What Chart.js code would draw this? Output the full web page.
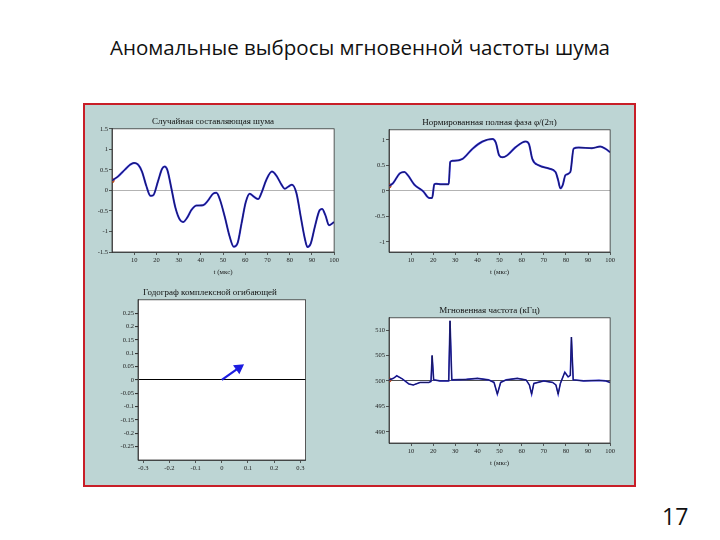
<!DOCTYPE html>
<html>
<head>
<meta charset="utf-8">
<script src="https://cdn.jsdelivr.net/npm/chart.js@4.4.1/dist/chart.umd.min.js"></script>
<style>
  body { margin: 0; background: #fff; }
  #slide { position: relative; width: 720px; height: 540px; overflow: hidden; background: #fff; }
  #title { position: absolute; left: 0; width: 720px; top: 33px; text-align: center;
           font-family: "Open Sans", sans-serif; font-size: 20.5px; color: #111; }
  #page { position: absolute; left: 662px; top: 500px; font-family: "Open Sans", sans-serif; font-size: 23px; color: #111; }
  #box { position: absolute; left: 83px; top: 103px; width: 549px; height: 380px;
         border: 2px solid #c81e28; background: #bdd5d4; }
  .cv { position: absolute; }
</style>
</head>
<body>
<div id="slide">
  <div id="title">Аномальные выбросы мгновенной частоты шума</div>
  <div id="box"></div>
  <div class="cv" style="left:90px;top:115px;width:250px;height:161px"><canvas id="c1"></canvas></div>
  <div class="cv" style="left:367px;top:116px;width:249px;height:160px"><canvas id="c2"></canvas></div>
  <div class="cv" style="left:112px;top:286px;width:200px;height:196px"><canvas id="c3"></canvas></div>
  <div class="cv" style="left:367px;top:304px;width:249px;height:163px"><canvas id="c4"></canvas></div>
  <div id="page">17</div>
</div>
<script>
// время, мкс
const noiseT = [0, 2.7, 5.7, 8, 9.9, 11.7, 13.5, 15.5, 17.3, 18.5, 20.7, 22.5, 23.7, 24.9, 26.7, 28.5, 30.5, 32, 34, 35.7,
  38, 41, 43.2, 45.5, 47, 48.5, 50.8, 53, 54.8, 56.5, 58.3, 60.2, 62, 64, 65.8, 67.3, 69.5, 72, 74, 76.3,
  77.8, 79.6, 81, 83, 85, 86.8, 88, 89.5, 91.3, 93.5, 94.6, 96.1, 97.7, 99.5, 100];
const noiseV = [0.24, 0.34, 0.5, 0.62, 0.67, 0.63, 0.46, 0.1, -0.13, -0.12, 0.22, 0.52, 0.58, 0.5, 0.06, -0.41, -0.71, -0.77, -0.65, -0.48,
  -0.37, -0.36, -0.25, -0.08, -0.06, -0.21, -0.65, -1.13, -1.37, -1.29, -0.81, -0.29, -0.08, -0.16, -0.21, -0.06, 0.26, 0.46, 0.36, 0.14,
  0.04, 0.1, 0.14, -0.06, -0.65, -1.17, -1.38, -1.29, -0.89, -0.48, -0.45, -0.61, -0.85, -0.79, -0.77];

const phaseT = [0, 1.8, 4.8, 7, 8.5, 11.5, 15.3, 18.3, 19.5, 20.5, 21.3, 23.5, 27, 27.7, 28.8, 33.3, 37.8, 42.3, 46.8, 48.3,
  49.8, 51.3, 53.5, 57.3, 61.8, 63.3, 64.8, 67.8, 72.3, 75.3, 76.5, 77.5, 78.6, 79.8, 82, 83.5, 85.8, 91.8, 95.5, 97.8, 100];
const phaseV = [0.1, 0.15, 0.34, 0.37, 0.31, 0.12, 0, -0.14, -0.14, 0.13, 0.14, 0.13, 0.13, 0.57, 0.59, 0.63, 0.83, 0.97, 1.02, 0.95,
  0.7, 0.66, 0.7, 0.86, 0.97, 0.92, 0.63, 0.5, 0.44, 0.37, 0.21, 0.05, 0.12, 0.31, 0.37, 0.83, 0.85, 0.84, 0.87, 0.83, 0.76];

const holoX = [0, 0.065];
const holoY = [0, 0.045];

const freqT = [0, 2, 3.5, 6, 9, 11, 14, 18, 19, 19.5, 20.2, 23, 27, 27.6, 28.4, 35, 40, 45, 47.5, 49,
  50.5, 53, 58, 62, 63.5, 64.5, 65.5, 70, 74, 75.5, 76.5, 77.5, 79.5, 81, 82, 82.5, 83.3, 88, 95, 98, 100];
const freqV = [500.2, 500.5, 501, 500.4, 499.4, 499.2, 499.7, 499.7, 499.9, 505, 500.2, 500, 500, 511.8, 500.2, 500.3, 500.5, 500.2, 499.7, 497.4,
  499.7, 500.2, 500.5, 500.2, 499.2, 497.4, 499.5, 500, 499.7, 499.2, 497.4, 499.5, 501.7, 500.8, 501.1, 508.6, 500.2, 500, 500.1, 500, 499.7];

const tTicks = [10, 20, 30, 40, 50, 60, 70, 80, 90, 100];
const noiseTicks = [-1.5, -1, -0.5, 0, 0.5, 1, 1.5];
const phaseTicks = [-1, -0.5, 0, 0.5, 1];
const holoXTicks = [-0.3, -0.2, -0.1, 0, 0.1, 0.2, 0.3];
const holoYTicks = [-0.25, -0.2, -0.15, -0.1, -0.05, 0, 0.05, 0.1, 0.15, 0.2, 0.25];
const freqTicks = [490, 495, 500, 505, 510];

const serif = 'Liberation Serif';
const pts = (xs, ys) => xs.map((x, i) => ({ x: x, y: ys[i] }));

const plotFrame = {
  id: 'plotFrame',
  beforeDraw(chart) {
    const { ctx, chartArea: a } = chart;
    ctx.save();
    ctx.fillStyle = '#fff';
    ctx.fillRect(a.left, a.top, a.width, a.height);
    ctx.restore();
  },
  afterDraw(chart) {
    const { ctx, chartArea: a } = chart;
    ctx.save();
    ctx.strokeStyle = '#333';
    ctx.lineWidth = 0.8;
    ctx.strokeRect(a.left, a.top, a.width, a.height);
    ctx.restore();
  }
};

// refLine: [value, color] — горизонтальная опорная линия
function axis(min, max, ticks, size, pos, title, refLine) {
  const horiz = pos === 'bottom';
  return {
    type: 'linear', position: pos, min: min, max: max,
    afterBuildTicks: s => { s.ticks = ticks.map(v => ({ value: v })); },
    afterFit: s => { if (horiz) s.height = size; else s.width = size; },
    border: { color: '#333', width: 0.8 },
    grid: {
      drawOnChartArea: !!refLine,
      color: c => (refLine && c.tick && c.tick.value === refLine[0]) ? refLine[1] : 'rgba(0,0,0,0)',
      lineWidth: refLine && refLine[1] === '#000' ? 1.1 : 0.8,
      tickColor: '#333', tickLength: 3
    },
    ticks: { font: { family: serif, size: 6.5 }, color: '#222', padding: 1, maxRotation: 0, autoSkip: false,
             callback: v => String(v) },
    title: { display: !!title, text: title, font: { family: serif, size: 7 }, color: '#222', padding: 0 }
  };
}

function makeChart(id, title, datasets, xs, ys, smooth) {
  new Chart(document.getElementById(id), {
    type: 'line',
    data: { datasets: datasets },
    options: {
      responsive: true, maintainAspectRatio: false, animation: false,
      layout: { padding: { right: 4, top: 0, bottom: 0, left: 0 } },
      elements: { point: { radius: 0 }, line: { cubicInterpolationMode: smooth ? 'monotone' : 'default', tension: 0 } },
      plugins: {
        legend: { display: false }, tooltip: { enabled: false },
        title: { display: true, text: title, font: { family: serif, size: 9, weight: 'normal' }, color: '#111',
                 padding: { top: 1, bottom: 2 } }
      },
      scales: { x: xs, y: ys }
    },
    plugins: [plotFrame]
  });
}

function series(xv, yv, w) {
  return [
    { data: pts(xv, yv), borderColor: '#16164a', borderWidth: 0.9, fill: false },
    { data: pts(xv, yv), borderColor: '#2b2bd6', borderWidth: w, fill: false },
    { data: pts(xv.slice(0, 1), yv.slice(0, 1)), showLine: false, pointRadius: 2.2,
      pointBackgroundColor: '#d2602a', pointBorderColor: '#b04010' }
  ];
}

makeChart('c1', 'Случайная составляющая шума', series(noiseT, noiseV, 2),
  axis(0, 100, tTicks, 24, 'bottom', 't (мкс)'),
  axis(-1.5, 1.5, noiseTicks, 22, 'left', null, [0, '#a0a0a0']), true);

makeChart('c2', 'Нормированная полная фаза φ/(2π)', series(phaseT, phaseV, 2),
  axis(0, 100, tTicks, 24, 'bottom', 't (мкс)'),
  axis(-1.2, 1.2, phaseTicks, 22, 'left', null, [0, '#a0a0a0']), true);

makeChart('c3', 'Годограф комплексной огибающей', [
    { data: pts(holoX, holoY), borderColor: '#1c1ce0', borderWidth: 2.2, fill: false,
      pointRadius: [0, 4.2], pointStyle: 'triangle', pointRotation: 55,
      pointBackgroundColor: '#1c1ce0', pointBorderColor: '#1c1ce0' }
  ],
  axis(-0.32, 0.32, holoXTicks, 22, 'bottom', null),
  axis(-0.3, 0.3, holoYTicks, 26, 'left', null, [0, '#000']), false);

makeChart('c4', 'Мгновенная частота (кГц)', series(freqT, freqV, 1.6),
  axis(0, 100, tTicks, 24, 'bottom', 't (мкс)'),
  axis(487.8, 512.4, freqTicks, 22, 'left', null, [500, '#222']), false);
</script>
</body>
</html>
